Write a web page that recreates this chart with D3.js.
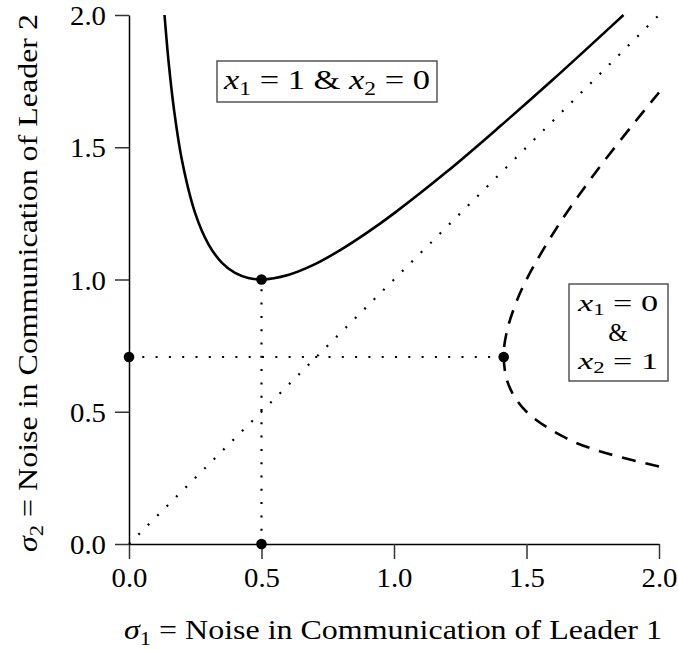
<!DOCTYPE html>
<html>
<head>
<meta charset="utf-8">
<script src="https://cdn.jsdelivr.net/npm/d3@7"></script>
<style>
  body { margin: 0; background: #fff; }
  svg { display: block; }
  text { font-family: 'Liberation Serif', 'DejaVu Serif', serif; fill: #000; }
</style>
</head>
<body>
<svg id="chart" width="678" height="650"></svg>
<script>
// Boundary between x1=1&x2=0 region (solid)
const solidSigma1 = [0.134, 0.15, 0.17, 0.2, 0.25, 0.3, 0.35, 0.4, 0.45, 0.5, 0.6, 0.7, 0.8, 0.9, 1.0, 1.2, 1.4, 1.6, 1.8, 1.866];
const solidSigma2 = [2.0, 1.817, 1.641, 1.45, 1.25, 1.133, 1.064, 1.025, 1.006, 1.0, 1.017, 1.057, 1.113, 1.178, 1.25, 1.408, 1.579, 1.756, 1.939, 2.0];

// Boundary of x1=0&x2=1 region (dashed)
const dashedSigma1 = [2.0, 1.779, 1.65, 1.5, 1.433, 1.414, 1.425, 1.456, 1.5, 1.617, 1.757, 1.913, 2.0];
const dashedSigma2 = [0.293, 0.35, 0.4, 0.5, 0.6, 0.707, 0.8, 0.9, 1.0, 1.2, 1.4, 1.6, 1.707];

// Reference points
const pointSigma1 = [0.5, 0.5, 0, 1.414];
const pointSigma2 = [1.0, 0, 0.707, 0.707];

const ticks = [0, 0.5, 1.0, 1.5, 2.0];

const svg = d3.select('#chart');
const x = d3.scaleLinear().domain([0, 2]).range([129, 659]);
const y = d3.scaleLinear().domain([0, 2]).range([544, 15]);

// ---- axes ----
const xAxis = d3.axisBottom(x).tickValues(ticks).tickFormat(d3.format('.1f')).tickSize(15).tickSizeOuter(0).tickPadding(8);
const yAxis = d3.axisLeft(y).tickValues(ticks).tickFormat(d3.format('.1f')).tickSize(14).tickSizeOuter(0).tickPadding(9);

const gx = svg.append('g').attr('transform', `translate(0,${y(0)})`).call(xAxis);
const gy = svg.append('g').attr('transform', `translate(${x(0)},0)`).call(yAxis);

[gx, gy].forEach((g) => {
    g.select('.domain').attr('stroke', '#000').attr('stroke-width', 1.5);
    g.selectAll('.tick line').attr('stroke', '#333').attr('stroke-width', 1.5);
    g.selectAll('.tick text')
        .attr('font-family', 'Liberation Serif, serif')
        .attr('font-size', 28)
        .attr('fill', '#000')
        .attr('textLength', 36)
        .attr('lengthAdjust', 'spacingAndGlyphs');
});
gy.selectAll('.tick text').attr('dy', '0.34em');

// ---- dotted guides ----
const dotted = { stroke: '#000', 'stroke-width': 2.2, 'stroke-dasharray': '2,11.3', fill: 'none' };
function guide(x1, y1, x2, y2) {
    const l = svg.append('line')
        .attr('x1', x(x1)).attr('y1', y(y1))
        .attr('x2', x(x2)).attr('y2', y(y2));
    Object.entries(dotted).forEach(([k, v]) => l.attr(k, v));
}
guide(0, 0, 2, 2);
guide(pointSigma1[0], pointSigma2[1], pointSigma1[0], pointSigma2[0]);
guide(pointSigma1[2], pointSigma2[2], pointSigma1[3], pointSigma2[3]);

// ---- curves ----
const line = d3.line()
    .x((d) => x(d[0]))
    .y((d) => y(d[1]))
    .curve(d3.curveCatmullRom);

svg.append('path')
    .attr('d', line(solidSigma1.map((v, i) => [v, solidSigma2[i]])))
    .attr('fill', 'none')
    .attr('stroke', '#000')
    .attr('stroke-width', 2.6);

svg.append('path')
    .attr('d', line(dashedSigma1.map((v, i) => [v, dashedSigma2[i]])))
    .attr('fill', 'none')
    .attr('stroke', '#000')
    .attr('stroke-width', 2.6)
    .attr('stroke-dasharray', '14,10');

// ---- points ----
svg.selectAll('circle.pt')
    .data(pointSigma1.map((v, i) => [v, pointSigma2[i]]))
    .enter()
    .append('circle')
    .attr('class', 'pt')
    .attr('cx', (d) => x(d[0]))
    .attr('cy', (d) => y(d[1]))
    .attr('r', 5.3)
    .attr('fill', '#000');

// ---- region labels ----
function mathLine(xPos, yPos, parts, opts) {
    const { size = 28, sub = 19, shift = 6, len } = opts || {};
    const t = svg.append('text')
        .attr('x', xPos).attr('y', yPos)
        .attr('text-anchor', 'middle')
        .attr('font-size', size);
    parts.forEach((p) => {
        const s = t.append('tspan').text(p.t);
        if (p.it) s.attr('font-style', 'italic');
        if (p.sub) s.attr('font-size', sub).attr('dy', shift);
        if (p.up) s.attr('dy', -shift);
    });
    if (len) t.attr('textLength', len).attr('lengthAdjust', 'spacingAndGlyphs');
    return t;
}

svg.append('rect')
    .attr('x', 217).attr('y', 61).attr('width', 220).attr('height', 41)
    .attr('fill', '#fff').attr('stroke', '#555').attr('stroke-width', 1.5);
mathLine(327, 89, [
    { t: 'x', it: true }, { t: '1', sub: true }, { t: ' = 1 & ', up: true },
    { t: 'x', it: true }, { t: '2', sub: true }, { t: ' = 0', up: true }
], { len: 206 });

svg.append('rect')
    .attr('x', 569).attr('y', 284).attr('width', 99).attr('height', 97)
    .attr('fill', '#fff').attr('stroke', '#555').attr('stroke-width', 1.5);
const small = { size: 24, sub: 16, shift: 4, len: 80 };
mathLine(618, 311, [{ t: 'x', it: true }, { t: '1', sub: true }, { t: ' = 0', up: true }], small);
mathLine(618, 341, [{ t: '&' }], { size: 25 });
mathLine(618, 369, [{ t: 'x', it: true }, { t: '2', sub: true }, { t: ' = 1', up: true }], small);

// ---- axis titles ----
function axisTitle(t, idx, leader) {
    t.append('tspan').attr('font-style', 'italic').text('σ');
    t.append('tspan').attr('font-size', 19).attr('dy', 6).text(idx);
    t.append('tspan').attr('dy', -6).text(` = Noise in Communication of Leader ${leader}`);
    t.attr('textLength', 538).attr('lengthAdjust', 'spacingAndGlyphs');
}

const xt = svg.append('text')
    .attr('x', 393).attr('y', 639)
    .attr('text-anchor', 'middle')
    .attr('font-size', 27);
axisTitle(xt, '1', '1');

const yt = svg.append('text')
    .attr('transform', `translate(37,283) rotate(-90)`)
    .attr('text-anchor', 'middle')
    .attr('font-size', 27);
axisTitle(yt, '2', '2');
</script>
</body>
</html>
